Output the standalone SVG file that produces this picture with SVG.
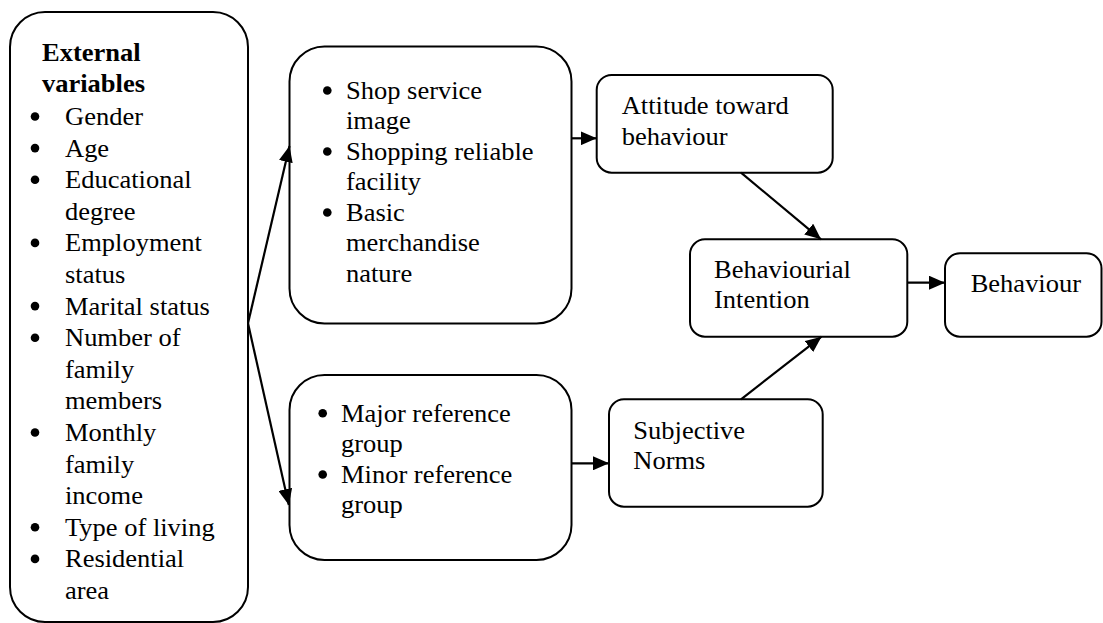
<svg xmlns="http://www.w3.org/2000/svg" width="1103" height="623" viewBox="0 0 1103 623">
  <defs>
    <style>
      .box { fill: #ffffff; stroke: #000000; stroke-width: 2; }
      .t { font-family: "Liberation Serif", "Times New Roman", serif; font-size: 25px; fill: #000000; }
      .b { font-weight: bold; }
      .dot { fill: #000000; }
      .link { stroke: #000000; stroke-width: 2.2; fill: none; marker-end: url(#arrow); }
    </style>
    <marker id="arrow" markerUnits="userSpaceOnUse" markerWidth="16" markerHeight="14" refX="16" refY="7" orient="auto">
      <path d="M0,0 L16,7 L0,14 Z" fill="#000000"/>
    </marker>
  </defs>

  <rect width="1103" height="623" fill="#ffffff"/>

  <!-- External variables -->
  <g id="external-variables">
    <rect class="box" x="10" y="12" width="238" height="610" rx="35" ry="35"/>
    <text class="t b" transform="translate(42 0) scale(1.06 1)">
      <tspan x="0" y="61">External</tspan>
      <tspan x="0" y="92.5">variables</tspan>
    </text>
    <g class="dot">
      <circle cx="35" cy="116.5" r="4.3"/>
      <circle cx="35" cy="148.1" r="4.3"/>
      <circle cx="35" cy="179.7" r="4.3"/>
      <circle cx="35" cy="242.9" r="4.3"/>
      <circle cx="35" cy="306.1" r="4.3"/>
      <circle cx="35" cy="337.7" r="4.3"/>
      <circle cx="35" cy="432.5" r="4.3"/>
      <circle cx="35" cy="527.3" r="4.3"/>
      <circle cx="35" cy="558.9" r="4.3"/>
    </g>
    <text class="t" transform="translate(65 0) scale(1.06 1)">
      <tspan x="0" y="125">Gender</tspan>
      <tspan x="0" y="156.6">Age</tspan>
      <tspan x="0" y="188.2">Educational</tspan>
      <tspan x="0" y="219.8">degree</tspan>
      <tspan x="0" y="251.4">Employment</tspan>
      <tspan x="0" y="283">status</tspan>
      <tspan x="0" y="314.6">Marital status</tspan>
      <tspan x="0" y="346.2">Number of</tspan>
      <tspan x="0" y="377.8">family</tspan>
      <tspan x="0" y="409.4">members</tspan>
      <tspan x="0" y="441">Monthly</tspan>
      <tspan x="0" y="472.6">family</tspan>
      <tspan x="0" y="504.2">income</tspan>
      <tspan x="0" y="535.8">Type of living</tspan>
      <tspan x="0" y="567.4">Residential</tspan>
      <tspan x="0" y="599">area</tspan>
    </text>
  </g>

  <!-- Shop attributes -->
  <g id="shop-attributes">
    <rect class="box" x="289.5" y="46.5" width="282" height="277" rx="35" ry="35"/>
    <g class="dot">
      <circle cx="327.3" cy="90.5" r="4.3"/>
      <circle cx="327.3" cy="151.5" r="4.3"/>
      <circle cx="327.3" cy="212.5" r="4.3"/>
    </g>
    <text class="t" transform="translate(346 0) scale(1.06 1)">
      <tspan x="0" y="99">Shop service</tspan>
      <tspan x="0" y="129.5">image</tspan>
      <tspan x="0" y="160">Shopping reliable</tspan>
      <tspan x="0" y="190.5">facility</tspan>
      <tspan x="0" y="221">Basic</tspan>
      <tspan x="0" y="251.5">merchandise</tspan>
      <tspan x="0" y="282">nature</tspan>
    </text>
  </g>

  <!-- Reference groups -->
  <g id="reference-groups">
    <rect class="box" x="289.5" y="375" width="282" height="185" rx="35" ry="35"/>
    <g class="dot">
      <circle cx="322.7" cy="413.2" r="4.3"/>
      <circle cx="322.7" cy="474.5" r="4.3"/>
    </g>
    <text class="t" transform="translate(341 0) scale(1.06 1)">
      <tspan x="0" y="421.7">Major reference</tspan>
      <tspan x="0" y="452">group</tspan>
      <tspan x="0" y="483">Minor reference</tspan>
      <tspan x="0" y="513.5">group</tspan>
    </text>
  </g>

  <!-- Attitude toward behaviour -->
  <g id="attitude">
    <rect class="box" x="596.7" y="75" width="236" height="97.7" rx="15" ry="15"/>
    <text class="t" transform="translate(621.7 0) scale(1.06 1)">
      <tspan x="0" y="114">Attitude toward</tspan>
      <tspan x="0" y="145">behaviour</tspan>
    </text>
  </g>

  <!-- Subjective norms -->
  <g id="subjective-norms">
    <rect class="box" x="609" y="399.3" width="213.7" height="107.4" rx="15" ry="15"/>
    <text class="t" transform="translate(633.3 0) scale(1.06 1)">
      <tspan x="0" y="439.3">Subjective</tspan>
      <tspan x="0" y="469.3">Norms</tspan>
    </text>
  </g>

  <!-- Behavioural intention -->
  <g id="intention">
    <rect class="box" x="690" y="239.3" width="217.3" height="97.4" rx="15" ry="15"/>
    <text class="t" transform="translate(714 0) scale(1.06 1)">
      <tspan x="0" y="278.3">Behaviourial</tspan>
      <tspan x="0" y="308.3">Intention</tspan>
    </text>
  </g>

  <!-- Behaviour -->
  <g id="behaviour">
    <rect class="box" x="945" y="253.3" width="156.5" height="83.4" rx="15" ry="15"/>
    <text class="t" transform="translate(970.7 0) scale(1.06 1)">
      <tspan x="0" y="291.7">Behaviour</tspan>
    </text>
  </g>

  <!-- Connectors -->
  <g id="connectors">
    <line class="link" x1="248" y1="323.3" x2="289.5" y2="146"/>
    <line class="link" x1="248" y1="323.3" x2="288.8" y2="505"/>
    <line class="link" x1="571.5" y1="138.3" x2="596.7" y2="138.3"/>
    <line class="link" x1="571.5" y1="463.3" x2="609" y2="463.3"/>
    <line class="link" x1="741" y1="172.7" x2="821" y2="239.3"/>
    <line class="link" x1="741" y1="399.3" x2="821.5" y2="336.7"/>
    <line class="link" x1="907.3" y1="282.7" x2="945" y2="282.7"/>
  </g>
</svg>
